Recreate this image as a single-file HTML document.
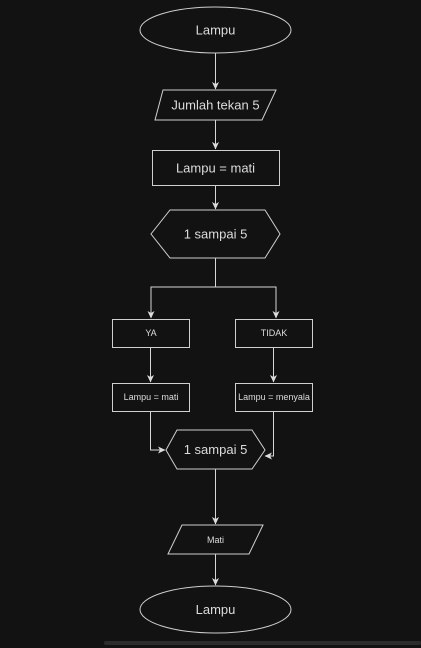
<!DOCTYPE html>
<html><head><meta charset="utf-8"><style>
html,body{margin:0;padding:0;background:#121212;width:421px;height:648px;overflow:hidden}
svg{display:block}
text{font-family:"Liberation Sans",Arial,sans-serif;fill:#dcdcdc;text-anchor:middle;dominant-baseline:central}
</style></head><body>
<svg width="421" height="648" viewBox="0 0 421 648">
<defs><marker id="a" markerWidth="8" markerHeight="8" refX="7" refY="4" orient="auto" markerUnits="userSpaceOnUse"><path d="M0,0.5 L7.5,4 L0,7.5 L2,4 Z" fill="#ddd"/></marker></defs>
<g fill="none" stroke="#cfcfcf" stroke-width="1">
<ellipse cx="215.5" cy="30" rx="75.5" ry="23"/>
<polygon points="163,90 276,90 262,120 155,120"/>
<rect x="152.5" y="150.5" width="127" height="35"/>
<polygon points="170,210 265,210 280,234 265,258 170,258 151,234"/>
<rect x="112.5" y="319.5" width="77" height="28"/>
<rect x="235.5" y="319.5" width="77" height="28"/>
<rect x="112.5" y="383.5" width="77" height="28"/>
<rect x="235.5" y="383.5" width="77" height="28"/>
<polygon points="177,430 252,430 265,450 252,469 177,469 166,450"/>
<polygon points="182,525 263,525 249,554 168,554"/>
<ellipse cx="215.5" cy="609.5" rx="75.5" ry="23.5"/>
</g>
<g fill="none" stroke="#d6d6d6" stroke-width="1" marker-end="url(#a)">
<path d="M215.5,53 V89"/>
<path d="M215.5,120 V149"/>
<path d="M215.5,186 V209"/>
<path d="M215.5,258 V287 H151 V318"/>
<path d="M215.5,287 H276 V318"/>
<path d="M150.5,348 V382"/>
<path d="M273.5,348 V382"/>
<path d="M150.5,412 V450 H165"/>
<path d="M273.5,412 V456 H265"/>
<path d="M215.5,469 V524"/>
<path d="M215.5,554 V585"/>
</g>
<text x="215.5" y="30" font-size="13">Lampu</text>
<text x="215.5" y="105" font-size="13">Jumlah tekan 5</text>
<text x="215.5" y="168" font-size="13">Lampu = mati</text>
<text x="215.5" y="234" font-size="13">1 sampai 5</text>
<text x="151" y="333" font-size="9">YA</text>
<text x="274" y="333" font-size="9">TIDAK</text>
<text x="151" y="397" font-size="9">Lampu = mati</text>
<text x="274" y="397" font-size="9">Lampu = menyala</text>
<text x="215.5" y="449.5" font-size="13">1 sampai 5</text>
<text x="215.5" y="540" font-size="9">Mati</text>
<text x="215.5" y="609.5" font-size="13">Lampu</text>
<rect x="104" y="641" width="317" height="4" rx="2" fill="#2c2c2c"/>
</svg>
</body></html>
